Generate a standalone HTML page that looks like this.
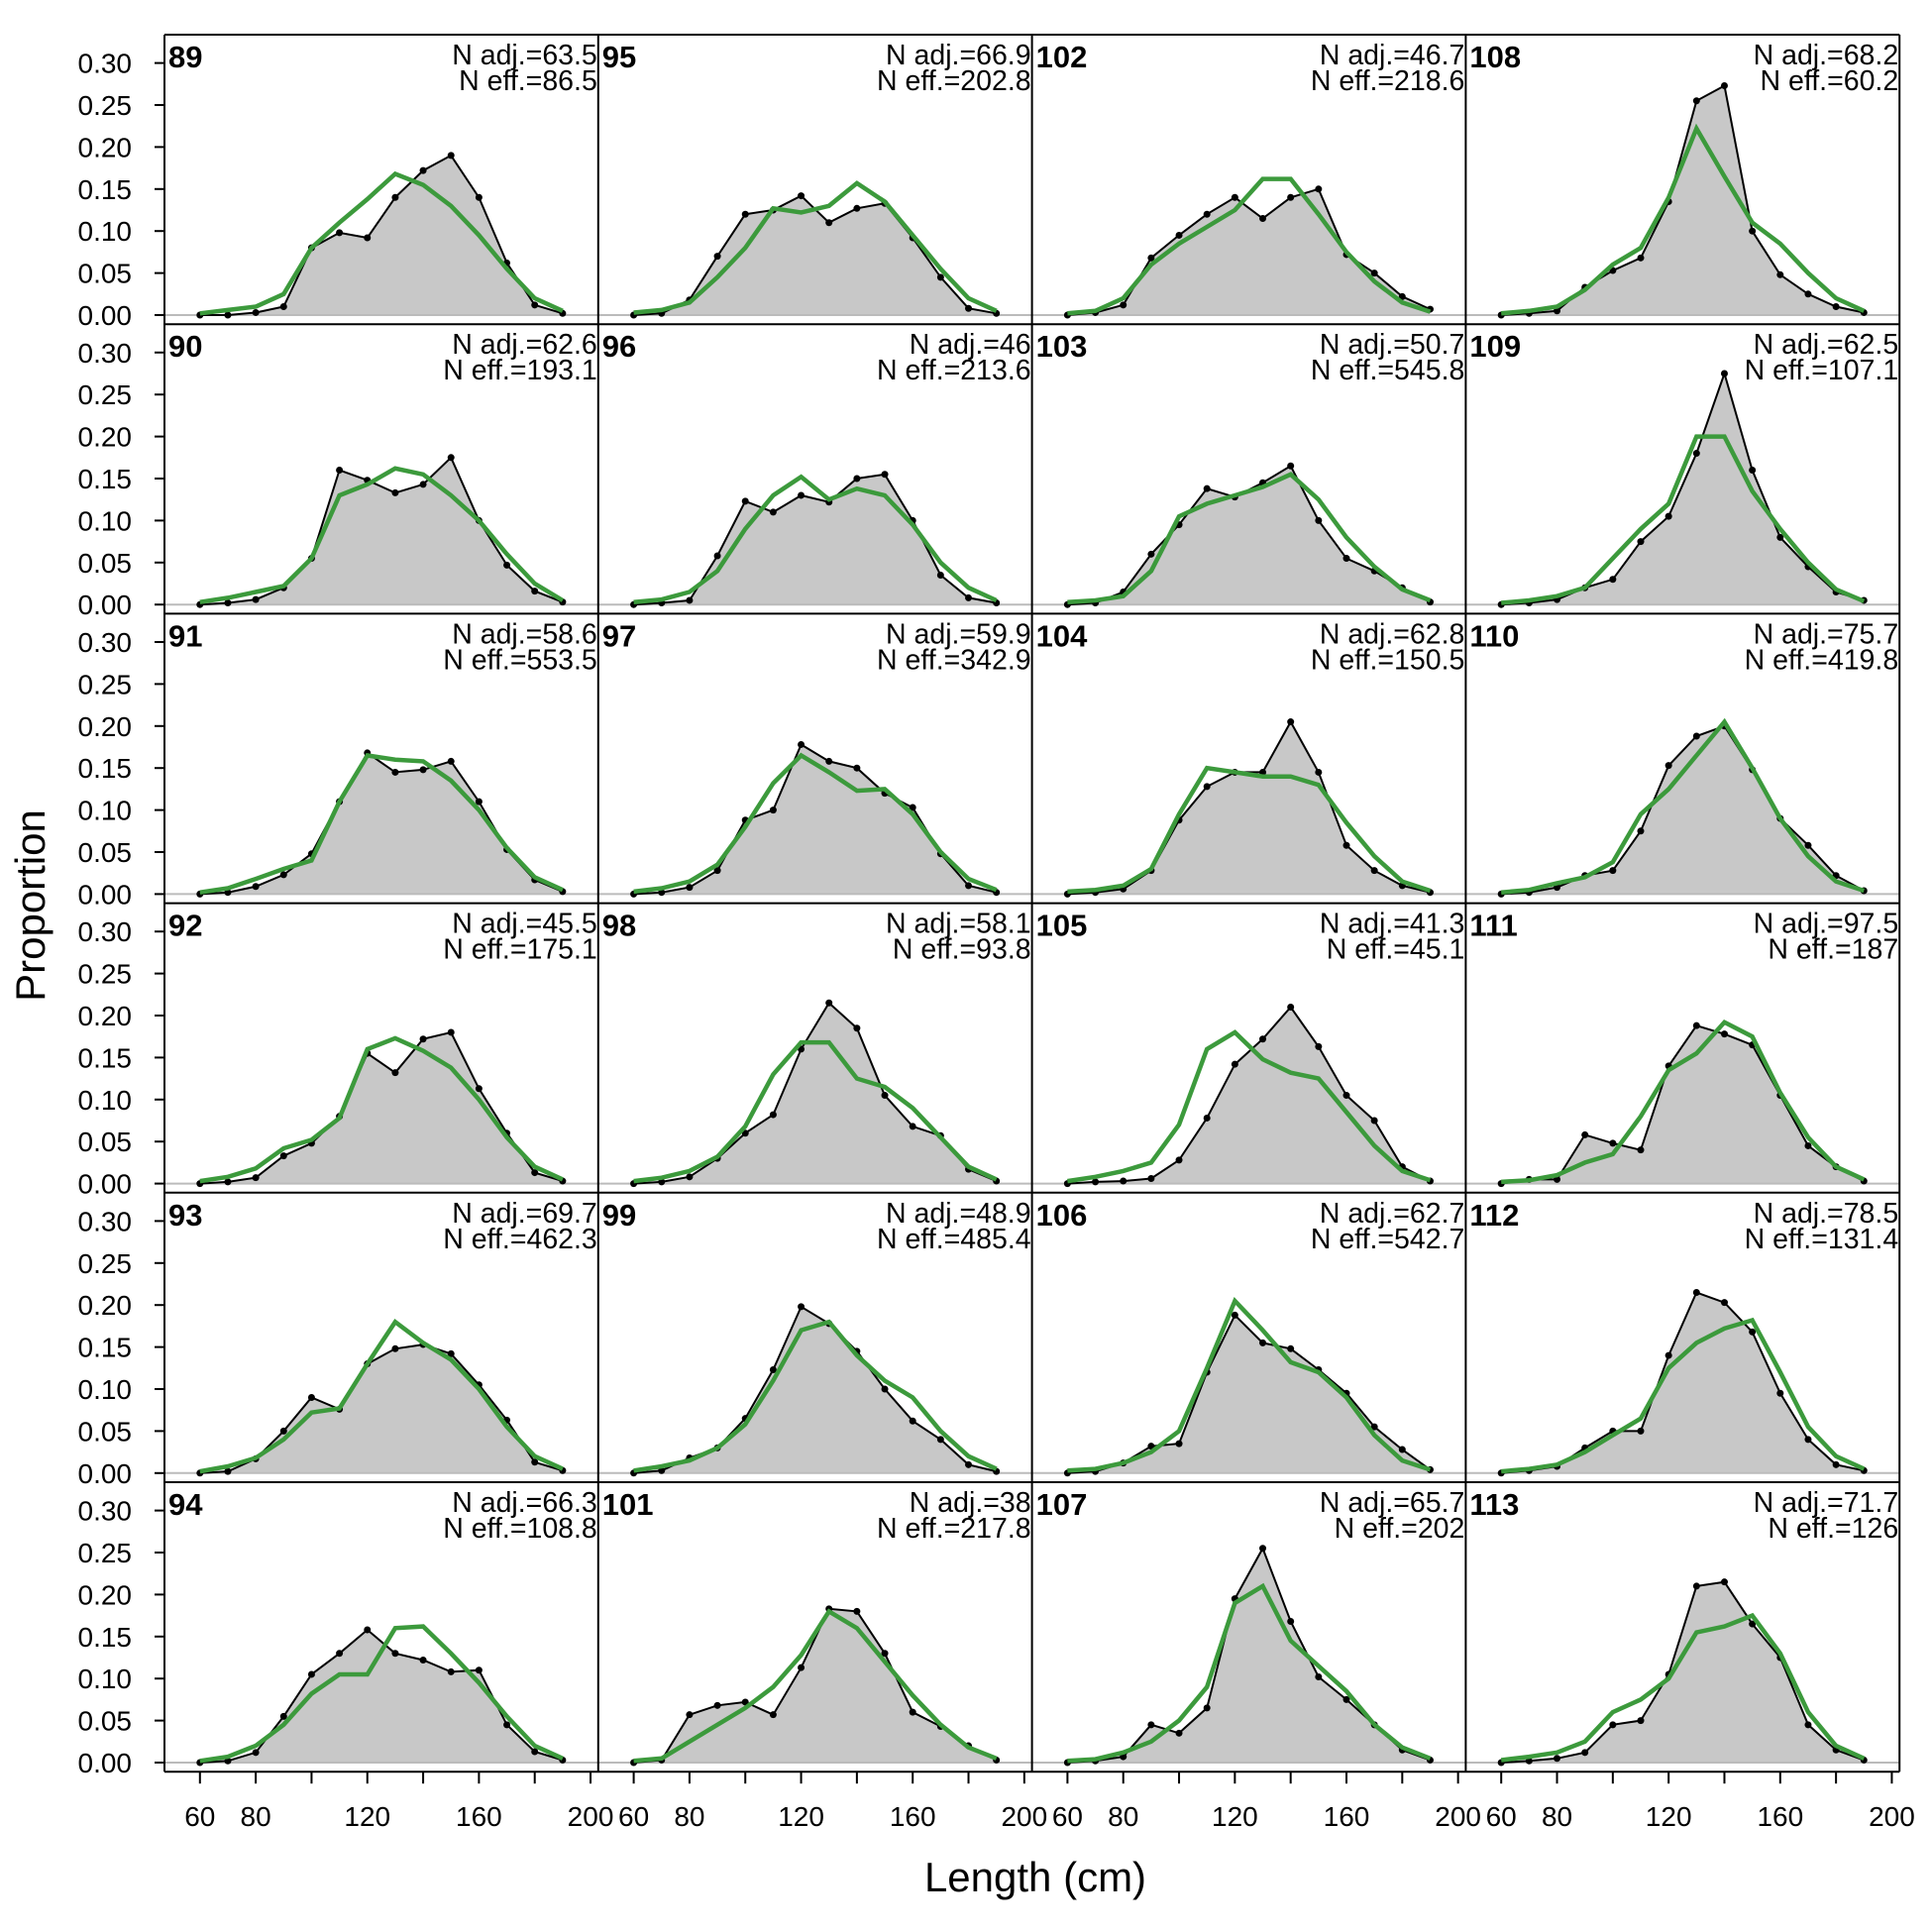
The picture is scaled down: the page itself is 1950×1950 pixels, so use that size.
<!DOCTYPE html>
<html><head><meta charset="utf-8"><style>body{margin:0;background:#fff}svg{display:block}</style></head>
<body>
<svg id="s" width="1950" height="1950" xmlns="http://www.w3.org/2000/svg" font-family="Liberation Sans, Arial, sans-serif"></svg>
<script>
const P={
89:[[0,0,0.003,0.01,0.08,0.098,0.092,0.14,0.172,0.19,0.14,0.062,0.012,0.002],[0.002,0.006,0.01,0.025,0.08,0.11,0.138,0.168,0.155,0.13,0.095,0.055,0.02,0.005],"63.5","86.5"],
90:[[0,0.002,0.006,0.02,0.055,0.16,0.148,0.133,0.143,0.175,0.1,0.047,0.016,0.003],[0.003,0.008,0.015,0.022,0.055,0.13,0.143,0.162,0.155,0.13,0.1,0.06,0.025,0.005],"62.6","193.1"],
91:[[0,0.002,0.009,0.023,0.048,0.11,0.168,0.145,0.148,0.158,0.11,0.053,0.017,0.003],[0.002,0.007,0.018,0.03,0.04,0.11,0.165,0.16,0.158,0.135,0.1,0.055,0.02,0.005],"58.6","553.5"],
92:[[0,0.002,0.007,0.033,0.048,0.08,0.155,0.132,0.172,0.18,0.113,0.06,0.013,0.003],[0.003,0.008,0.018,0.042,0.052,0.078,0.16,0.173,0.158,0.138,0.1,0.055,0.02,0.005],"45.5","175.1"],
93:[[0,0.002,0.017,0.05,0.09,0.076,0.13,0.148,0.153,0.142,0.105,0.063,0.013,0.003],[0.002,0.008,0.018,0.04,0.072,0.077,0.13,0.18,0.155,0.135,0.1,0.055,0.02,0.005],"69.7","462.3"],
94:[[0,0.002,0.012,0.055,0.105,0.13,0.158,0.13,0.122,0.108,0.11,0.045,0.013,0.003],[0.002,0.007,0.02,0.045,0.082,0.105,0.105,0.16,0.162,0.13,0.095,0.055,0.02,0.005],"66.3","108.8"],
95:[[0,0.002,0.018,0.07,0.12,0.125,0.142,0.11,0.127,0.133,0.092,0.045,0.008,0.002],[0.003,0.006,0.015,0.045,0.08,0.127,0.122,0.13,0.157,0.135,0.095,0.055,0.02,0.005],"66.9","202.8"],
96:[[0,0.002,0.005,0.058,0.123,0.11,0.13,0.122,0.15,0.155,0.1,0.035,0.008,0.002],[0.003,0.006,0.015,0.04,0.09,0.13,0.152,0.125,0.138,0.13,0.095,0.05,0.02,0.005],"46","213.6"],
97:[[0,0.002,0.008,0.028,0.088,0.1,0.178,0.158,0.15,0.12,0.103,0.048,0.01,0.002],[0.003,0.007,0.015,0.035,0.08,0.132,0.165,0.145,0.123,0.125,0.095,0.05,0.018,0.005],"59.9","342.9"],
98:[[0,0.002,0.008,0.03,0.06,0.082,0.16,0.215,0.185,0.105,0.068,0.057,0.017,0.003],[0.003,0.007,0.015,0.032,0.068,0.13,0.168,0.168,0.125,0.115,0.09,0.055,0.02,0.005],"58.1","93.8"],
99:[[0,0.003,0.018,0.03,0.065,0.123,0.198,0.178,0.145,0.1,0.062,0.04,0.01,0.002],[0.003,0.008,0.015,0.03,0.058,0.11,0.17,0.18,0.14,0.11,0.09,0.05,0.02,0.005],"48.9","485.4"],
101:[[0,0.003,0.057,0.068,0.072,0.057,0.113,0.183,0.18,0.13,0.06,0.043,0.02,0.003],[0.002,0.005,0.025,0.045,0.065,0.09,0.128,0.18,0.16,0.12,0.08,0.045,0.018,0.005],"38","217.8"],
102:[[0,0.003,0.012,0.068,0.095,0.12,0.14,0.115,0.14,0.15,0.072,0.05,0.022,0.007],[0.002,0.005,0.02,0.06,0.085,0.105,0.125,0.162,0.162,0.12,0.075,0.04,0.015,0.004],"46.7","218.6"],
103:[[0,0.002,0.015,0.06,0.095,0.138,0.128,0.145,0.165,0.1,0.055,0.04,0.02,0.003],[0.003,0.005,0.01,0.04,0.105,0.12,0.13,0.14,0.155,0.125,0.08,0.045,0.018,0.005],"50.7","545.8"],
104:[[0,0.002,0.006,0.028,0.088,0.128,0.145,0.145,0.205,0.145,0.058,0.028,0.01,0.002],[0.003,0.005,0.01,0.03,0.095,0.15,0.145,0.14,0.14,0.13,0.085,0.045,0.015,0.004],"62.8","150.5"],
105:[[0,0.002,0.003,0.006,0.028,0.078,0.142,0.172,0.21,0.163,0.105,0.075,0.02,0.003],[0.003,0.008,0.015,0.025,0.07,0.16,0.18,0.148,0.132,0.125,0.085,0.045,0.015,0.004],"41.3","45.1"],
106:[[0,0.002,0.012,0.032,0.035,0.12,0.188,0.155,0.148,0.123,0.095,0.055,0.028,0.004],[0.003,0.005,0.012,0.025,0.05,0.125,0.205,0.17,0.132,0.12,0.09,0.045,0.015,0.004],"62.7","542.7"],
107:[[0,0.002,0.007,0.045,0.035,0.065,0.195,0.255,0.168,0.102,0.075,0.045,0.015,0.003],[0.002,0.004,0.012,0.025,0.05,0.09,0.19,0.21,0.145,0.115,0.085,0.045,0.018,0.005],"65.7","202"],
108:[[0,0.002,0.005,0.033,0.053,0.068,0.135,0.255,0.273,0.1,0.048,0.025,0.01,0.003],[0.002,0.005,0.01,0.03,0.06,0.08,0.14,0.222,0.165,0.11,0.085,0.05,0.02,0.005],"68.2","60.2"],
109:[[0,0.002,0.006,0.02,0.03,0.075,0.105,0.18,0.275,0.16,0.08,0.045,0.015,0.005],[0.002,0.005,0.01,0.02,0.055,0.09,0.12,0.2,0.2,0.135,0.09,0.05,0.018,0.004],"62.5","107.1"],
110:[[0,0.002,0.008,0.022,0.028,0.075,0.153,0.188,0.2,0.148,0.09,0.058,0.022,0.004],[0.002,0.005,0.013,0.02,0.038,0.095,0.125,0.165,0.205,0.15,0.09,0.045,0.015,0.004],"75.7","419.8"],
111:[[0,0.005,0.005,0.058,0.048,0.04,0.14,0.188,0.178,0.165,0.105,0.045,0.02,0.003],[0.002,0.004,0.01,0.025,0.035,0.08,0.135,0.155,0.192,0.175,0.108,0.055,0.02,0.005],"97.5","187"],
112:[[0,0.003,0.008,0.03,0.05,0.05,0.14,0.215,0.203,0.168,0.095,0.04,0.01,0.003],[0.002,0.005,0.01,0.025,0.045,0.065,0.125,0.155,0.172,0.182,0.12,0.055,0.02,0.005],"78.5","131.4"],
113:[[0,0.002,0.005,0.012,0.045,0.05,0.105,0.21,0.215,0.165,0.125,0.045,0.015,0.003],[0.003,0.007,0.012,0.025,0.06,0.075,0.1,0.155,0.162,0.175,0.13,0.06,0.02,0.005],"71.7","126"]};
const cols=[[89,90,91,92,93,94],[95,96,97,98,99,101],[102,103,104,105,106,107],[108,109,110,111,112,113]];
const L=166,CW=437.8,T=35,RH=292.2,B=T+6*RH;
let h='';
for(let c=0;c<4;c++)for(let r=0;r<6;r++){
 const id=cols[c][r],d=P[id],x0=L+c*CW,y0=T+r*RH;
 const X=v=>x0+35.8+(v-60)*2.816, Y=v=>y0+283-v*848;
 let pts=d[0].map((v,i)=>X(60+10*i).toFixed(1)+','+Y(v).toFixed(1));
 h+=`<polygon points="${X(60)},${Y(0)} ${pts.join(' ')} ${X(190)},${Y(0)}" fill="#c8c8c8"/>`;
 h+=`<line x1="${x0}" x2="${x0+CW}" y1="${Y(0)}" y2="${Y(0)}" stroke="#bbb" stroke-width="2"/>`;
 h+=`<polyline points="${pts.join(' ')}" fill="none" stroke="#000" stroke-width="2"/>`;
 d[0].forEach((v,i)=>h+=`<circle cx="${X(60+10*i)}" cy="${Y(v)}" r="3.5"/>`);
 h+=`<polyline points="${d[1].map((v,i)=>X(60+10*i).toFixed(1)+','+Y(v).toFixed(1)).join(' ')}" fill="none" stroke="#3c9a3c" stroke-width="4.5"/>`;
 h+=`<text x="${x0+4}" y="${y0+33}" font-size="31" font-weight="bold">${id}</text>`;
 h+=`<text x="${x0+CW-1}" y="${y0+30}" font-size="28.5" text-anchor="end">N adj.=${d[2]}</text>`;
 h+=`<text x="${x0+CW-1}" y="${y0+56}" font-size="28.5" text-anchor="end">N eff.=${d[3]}</text>`;
 if(c==0){for(let k=0;k<=6;k++){const v=k*0.05,y=Y(v);h+=`<line x1="156" x2="166" y1="${y}" y2="${y}" stroke="#000" stroke-width="2"/><text x="133" y="${y+10}" font-size="28" text-anchor="end">${v.toFixed(2)}</text>`;}}
 if(r==5){for(let v=60;v<=200;v+=20){const x=X(v);h+=`<line x1="${x}" x2="${x}" y1="${B}" y2="${B+12}" stroke="#000" stroke-width="2"/>`;if([60,80,120,160,200].includes(v))h+=`<text x="${x}" y="${B+55}" font-size="28" text-anchor="middle">${v}</text>`;}}
}
for(let c=0;c<=4;c++)h+=`<line x1="${L+c*CW}" x2="${L+c*CW}" y1="${T}" y2="${B}" stroke="#000" stroke-width="2"/>`;
for(let r=0;r<=6;r++)h+=`<line x1="${L}" x2="${L+4*CW}" y1="${T+r*RH}" y2="${T+r*RH}" stroke="#000" stroke-width="2"/>`;
h+=`<text x="1045" y="1909" font-size="42" text-anchor="middle">Length (cm)</text>`;
h+=`<text transform="translate(45,914) rotate(-90)" font-size="42" text-anchor="middle">Proportion</text>`;
document.getElementById('s').innerHTML=h;
</script>
</body></html>
